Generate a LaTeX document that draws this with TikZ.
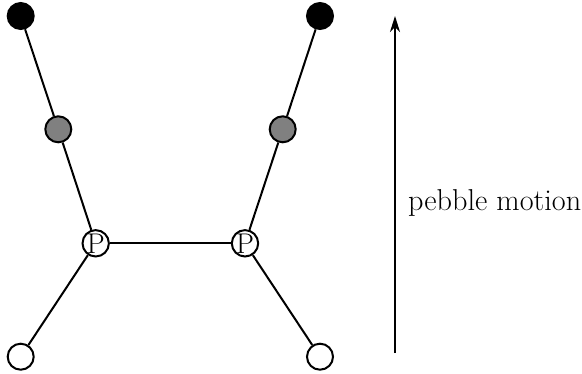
\documentclass[tikz,border=0pt]{standalone}
\usetikzlibrary{arrows.meta}
\begin{document}
\begin{tikzpicture}[x=1pt,y=-1pt,
  peb/.style={circle,draw=black,line width=2pt,minimum size=26pt,inner sep=0pt},
  blackpeb/.style={peb,fill=black},
  graypeb/.style={peb,fill=black!50},
  whitepeb/.style={peb,fill=white},
  pnode/.style={peb,fill=white,font=\fontsize{28.5}{30}\selectfont},
  edge/.style={line width=2pt}]
\useasboundingbox (0,0) rectangle (582,373);
\node[blackpeb] (b1) at (20.7,16) {};
\node[blackpeb] (b2) at (320,16) {};
\node[graypeb] (g1) at (58.3,129.3) {};
\node[graypeb] (g2) at (282.7,129.3) {};
\node[pnode] (p1) at (95.7,243.3) {P};
\node[pnode] (p2) at (245,243.3) {P};
\node[whitepeb] (w1) at (20.7,356.7) {};
\node[whitepeb] (w2) at (320,356.7) {};
\draw[edge] (b1) -- (g1);
\draw[edge] (g1) -- (p1);
\draw[edge] (b2) -- (g2);
\draw[edge] (g2) -- (p2);
\draw[edge] (p1) -- (p2);
\draw[edge] (p1) -- (w1);
\draw[edge] (p2) -- (w2);
\coordinate (a0) at (395,353);
\coordinate (a1) at (395,16);
\draw[line width=2.2pt,-{Stealth[length=16pt,width=10pt,inset=5pt]}] (a0) -- (a1);
\node[anchor=west,inner sep=0pt,font=\fontsize{30.2}{32}\selectfont] (lbl) at (408,203) {pebble motion};
\end{tikzpicture}
\end{document}
